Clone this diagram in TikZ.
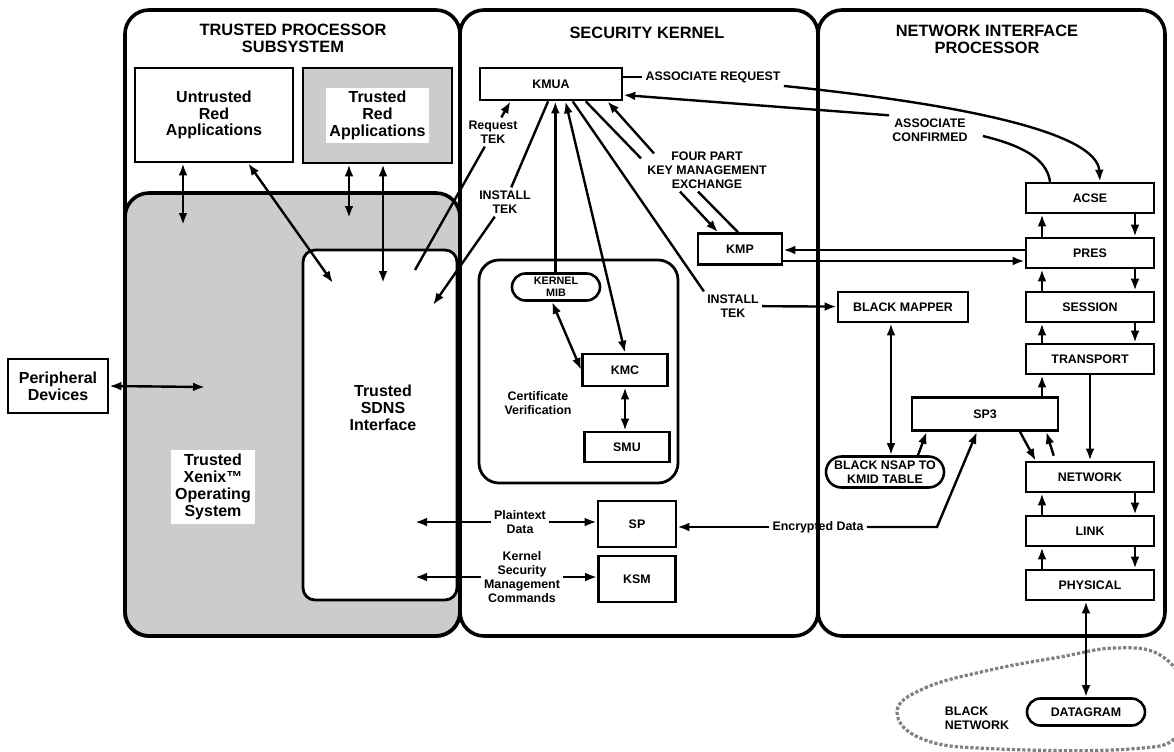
\documentclass[tikz,border=0pt]{standalone}
\usepackage{fontspec}
\setmainfont{Liberation Sans}
\usetikzlibrary{calc, positioning, arrows.meta, shapes.misc}

\tikzset{
    panel/.style={line width=1.8pt, rounded corners=12pt},
    dotfill/.style={fill=black!20},
    blk/.style={draw, line width=1.3pt, fill=white, inner sep=1pt, align=center,
        font=\bfseries\fontsize{6.2}{6.9}\selectfont},
    pill/.style={blk, rounded rectangle},
    osi/.style={blk, minimum width=64pt, minimum height=15pt},
    bigtxt/.style={align=center, font=\bfseries\fontsize{8}{8.4}\selectfont},
    ttl/.style={align=center, font=\bfseries\fontsize{8.2}{8.4}\selectfont},
    lbl/.style={align=center, inner sep=1.5pt, font=\bfseries\fontsize{6.2}{6.9}\selectfont},
    wire/.style={line width=1.2pt},
    arr/.style={wire, -{Latex[length=6pt,width=4.4pt]}},
    dbl/.style={wire, {Latex[length=6pt,width=4.4pt]}-{Latex[length=6pt,width=4.4pt]}},
}

\begin{document}
\begin{tikzpicture}[x=0.5pt, y=-0.5pt]

    \useasboundingbox (0,0) rectangle (1174,751);

    % =================================================================
    % 1. SHADED OPERATING SYSTEM AND THE SDNS INTERFACE
    % =================================================================
    \node[draw, line width=1.8pt, dotfill, rounded corners=12pt, inner sep=0,
          minimum width=167.5pt, minimum height=221.5pt] (xenix) at (292.5,414.5) {};
    \node[draw, line width=1.4pt, fill=white, rounded corners=6pt, inner sep=0,
          minimum width=77pt, minimum height=175pt] (sdns) at (380,425) {};

    % =================================================================
    % 2. THE THREE PANELS
    % =================================================================
    \draw[panel] (125,10) rectangle (460,636);
    \draw[panel] (460,10) rectangle (818,636);
    \draw[panel] (818,10) rectangle (1165,636);

    \node[ttl] (tpsT) at (293,38) {TRUSTED PROCESSOR\\SUBSYSTEM};
    \node[ttl] (skT) at (647,33) {SECURITY KERNEL};
    \node[ttl] (nipT) at (987,39) {NETWORK INTERFACE\\PROCESSOR};

    % =================================================================
    % 3. TRUSTED PROCESSOR SUBSYSTEM
    % =================================================================
    \node[blk, bigtxt, minimum width=79pt, minimum height=47pt] (utr) at (214,115)
        {Untrusted\\Red\\Applications};
    \node[blk, dotfill, minimum width=74.5pt, minimum height=47.5pt] (trr) at (377.5,115.5) {};
    \node[bigtxt, fill=white, inner sep=1.5pt] (trrtxt) at (trr) {Trusted\\Red\\Applications};
    \node[bigtxt, fill=white, inner sep=2pt] (xenixtxt) at (213,487)
        {Trusted\\Xenix™\\Operating\\System};
    \node[bigtxt] (sdnstxt) at (383,408) {Trusted\\SDNS\\Interface};
    \node[blk, bigtxt, minimum width=50pt, minimum height=27pt] (periph) at (58,386)
        {Peripheral\\Devices};

    % =================================================================
    % 4. SECURITY KERNEL
    % =================================================================
    \node[blk, minimum width=71pt, minimum height=16pt] (kmua) at (551,84) {KMUA};
    \node[draw, line width=1.4pt, rounded corners=10pt, minimum width=99.5pt,
          minimum height=111.5pt] (cert) at (578.5,371.5) {};
    \node[pill, inner sep=0, font=\bfseries\fontsize{5.4}{5.8}\selectfont,
          minimum width=44pt, minimum height=13.5pt] (kmib) at (556,287) {KERNEL\\MIB};
    \node[blk, minimum width=42.5pt, minimum height=16pt] (kmc) at (625,370) {KMC};
    \node[blk, minimum width=42.5pt, minimum height=15pt] (smu) at (627,447) {SMU};
    \node[lbl] (certtxt) at (538,403) {Certificate\\Verification};
    \node[blk, minimum width=42pt, minimum height=15.5pt] (kmp) at (740,249) {KMP};
    \node[blk, minimum width=39pt, minimum height=23pt] (sp) at (637,524) {SP};
    \node[blk, minimum width=38.5pt, minimum height=23pt] (ksm) at (637,579) {KSM};

    \node[lbl] (rtek) at (493,132) {Request\\TEK};
    \node[lbl] (itek1) at (505,202) {INSTALL\\TEK};
    \node[lbl] (itek2) at (733,306) {INSTALL\\TEK};
    \node[lbl] (fpkm) at (707,170) {FOUR PART\\KEY MANAGEMENT\\EXCHANGE};
    \node[lbl] (areq) at (713,77) {ASSOCIATE REQUEST};
    \node[lbl] (aconf) at (930,130) {ASSOCIATE\\CONFIRMED};
    \node[lbl] (ptd) at (520,522) {Plaintext\\Data};
    \node[lbl] (ksmc) at (522,577) {Kernel\\Security\\Management\\Commands};
    \node[lbl] (enc) at (818,527) {Encrypted Data};

    % =================================================================
    % 5. NETWORK INTERFACE PROCESSOR
    % =================================================================
    \node[blk, minimum width=65pt, minimum height=15pt] (bmap) at (903,307) {BLACK MAPPER};
    \node[pill, minimum width=61pt, minimum height=15.5pt] (nsap) at (885,472)
        {BLACK NSAP TO\\KMID TABLE};
    \node[blk, minimum width=73pt, minimum height=16.5pt] (sp3) at (985,414) {SP3};
    \foreach \nm/\txt/\yy in {acse/ACSE/198, pres/PRES/253, sess/SESSION/307,
            trans/TRANSPORT/359, net/NETWORK/477, link/LINK/531, phys/PHYSICAL/585}
        \node[osi] (\nm) at (1090,\yy) {\txt};

    % black network cloud
    \draw[densely dotted, line width=1.6pt, black!50] plot[smooth cycle, tension=0.7]
        coordinates {(897,712) (925,688) (990,670) (1060,657) (1115,648) (1160,655)
                     (1185,690) (1178,735) (1130,749) (1000,749) (925,740)};
    \node[pill, minimum width=61pt, minimum height=13.5pt] (dgram) at (1086,712) {DATAGRAM};
    \node[lbl, align=left] (bnet) at (977,718) {BLACK\\NETWORK};

    % =================================================================
    % 6. CONNECTORS
    % =================================================================
    \foreach \n/\f in {a/0.22, b/0.48, c/0.53, d/0.6, e/0.65, f/0.74, g/0.89}
        \coordinate (kmua-\n) at ($(kmua.south west)!\f!(kmua.south east)$);

    % left panel
    \coordinate (xa) at (183,225);
    \coordinate (sa) at (333,283);
    \coordinate (xb) at (349,218);
    \coordinate (sb) at (383,283);
    \coordinate (sc) at (415,270);
    \coordinate (sd) at (433,305);
    \coordinate (pd) at (205,387);
    \coordinate (pl) at (415,522);
    \coordinate (kl) at (415,577);
    \draw[dbl] (utr.south -| xa) -- (xa);
    \draw[dbl] (utr) -- (sa);
    \draw[dbl] (trr.south -| xb) -- (xb);
    \draw[dbl] (trr.south -| sb) -- (sb);
    \draw[dbl] (periph.east) -- (pd);

    % kernel key traffic
    \draw[wire] (sc) -- (rtek);
    \draw[arr] (rtek) -- (kmua-a);
    \draw[wire] (kmua-b) -- (itek1);
    \draw[arr] (itek1) -- (sd);
    \draw[arr] (kmib.north -| kmua-c) -- (kmua-c);
    \draw[dbl] (kmua-d) -- (kmc.north);
    \draw[wire] (kmua-e) -- (itek2.north west);
    \draw[arr] (itek2) -- (bmap);
    \draw[wire] (kmua-f) -- ($(fpkm.north west)+(-3,10)$);
    \draw[arr] ($(fpkm.south)+(-27,0)$) -- ($(kmp.north)+(-22,0)$);
    \draw[wire] ($(kmp.north)+(-2,0)$) -- ($(fpkm.south)+(-9,0)$);
    \draw[arr] ($(fpkm.north west)+(10,5)$) -- (kmua-g);
    \draw[dbl] ($(kmib.south)+(-4,0)$) -- (kmc.west);
    \draw[dbl] (kmc.south) -- (smu.north -| kmc.south);

    % data into SP and KSM
    \draw[arr] (ptd.west) -- (pl);
    \draw[arr] (ptd.east) -- (sp.west |- ptd.east);
    \draw[arr] (ksmc.west) -- (kl);
    \draw[arr] (ksmc.east) -- (ksm.west |- ksmc.east);
    \coordinate (ebend) at (937,527);
    \draw[arr] (enc.west) -- (sp.east |- enc.west);
    \draw[arr] (enc.east) -- (ebend) -- ($(sp3.south)+(-8,0)$);

    % association with ACSE
    \draw[wire] (kmua.east |- areq.west) -- (areq.west);
    \draw[arr] (areq.south east) .. controls (960,104) and (1097,132) .. ($(acse.north)+(10,0)$);
    \draw[wire] ($(acse.north)+(-40,0)$) .. controls (1047,158) and (1020,145) .. ($(aconf.east)+(12,6)$);
    \draw[arr] (aconf.north west) -- ($(kmua.east)+(0,11)$);

    % KMP and presentation layer
    \draw[arr] ($(pres.west)+(0,-3)$) -- ($(kmp.east)+(0,1)$);
    \draw[arr] ($(kmp.east)+(0,12)$) -- ($(pres.west)+(0,8)$);

    % protocol stack
    \foreach \lo/\hi in {pres/acse, sess/pres, trans/sess, link/net, phys/link} {
        \draw[arr] ($(\lo.north)+(-48,0)$) -- ($(\hi.south)+(-48,0)$);
        \draw[arr] ($(\hi.south)+(45,0)$) -- ($(\lo.north)+(45,0)$);
    }
    \coordinate (tu) at ($(trans.south)+(-48,0)$);
    \draw[arr] (sp3.north -| tu) -- (tu);
    \draw[arr] (trans.south) -- (net.north);
    \draw[arr] ($(sp3.south)+(35,0)$) -- ($(net.north west)+(11,0)$);
    \draw[arr] ($(net.north west)+(29,-5)$) -- ($(sp3.south east)+(-13,0)$);

    % black side
    \coordinate (bm1) at ($(bmap.south)+(-12,0)$);
    \draw[dbl] (bm1) -- (nsap.north -| bm1);
    \draw[arr] ($(nsap.north)+(33,0)$) -- ($(sp3.south west)+(16,0)$);
    \draw[dbl] (phys.south -| dgram.north) -- (dgram.north);

\end{tikzpicture}
\end{document}
